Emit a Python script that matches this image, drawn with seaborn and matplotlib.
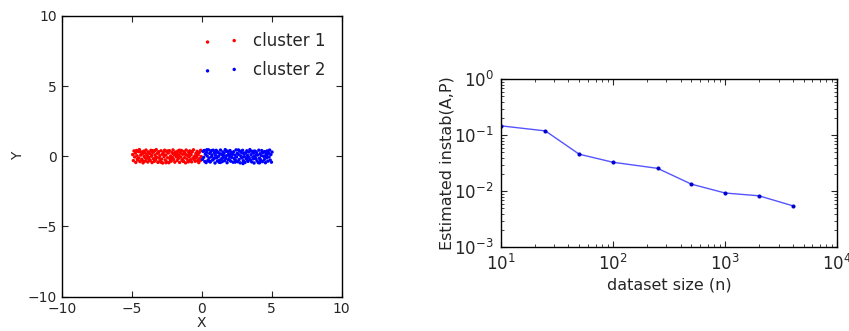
import matplotlib
matplotlib.use("Agg")
import matplotlib.pyplot as plt
import seaborn as sns
import pandas as pd

# cluster points (approximate)
c1_x = [-4.93, -4.88, -4.84, -4.79, -4.74, -4.71, -4.66, -4.62, -4.57, -4.53,
        -4.49, -4.45, -4.41, -4.36, -4.32, -4.28, -4.24, -4.19, -4.15, -4.11,
        -4.06, -4.02, -3.98, -3.94, -3.89, -3.85, -3.81, -3.76, -3.72, -3.68,
        -3.63, -3.59, -3.55, -3.51, -3.46, -3.42, -3.38, -3.33, -3.29, -3.25,
        -3.21, -3.16, -3.12, -3.08, -3.03, -2.99, -2.95, -2.91, -2.86, -2.82,
        -2.78, -2.73, -2.69, -2.65, -2.61, -2.56, -2.52, -2.48, -2.43, -2.39,
        -2.35, -2.31, -2.26, -2.22, -2.18, -2.13, -2.09, -2.05, -2.01, -1.96,
        -1.92, -1.88, -1.83, -1.79, -1.75, -1.71, -1.66, -1.62, -1.58, -1.53,
        -1.49, -1.45, -1.41, -1.36, -1.32, -1.28, -1.23, -1.19, -1.15, -1.11,
        -1.06, -1.02, -0.98, -0.93, -0.89, -0.85, -0.81, -0.76, -0.72, -0.68,
        -0.63, -0.59, -0.55, -0.51, -0.46, -0.42, -0.38, -0.33, -0.29, -0.25,
        -0.21, -0.16, -0.12, -0.08, -0.04,
        -4.60, -4.38, -4.17, -3.96, -3.74, -3.53, -3.31, -3.10, -2.88, -2.67,
        -2.45, -2.24, -2.02, -1.81, -1.59, -1.38, -1.16, -0.95, -0.73, -0.52,
        -0.30, -0.09, -4.47, -4.02, -3.57, -3.12, -2.67, -2.21, -1.76, -1.31,
        -0.86, -0.41, -4.27, -3.36, -2.55, -1.64, -0.92, -0.18]
c1_y = [0.12, -0.31, 0.38, -0.05, 0.22, -0.44, 0.41, 0.03, -0.27, 0.33,
        -0.12, 0.46, -0.38, 0.08, 0.29, -0.21, 0.17, -0.47, 0.36, -0.02,
        0.25, -0.34, 0.44, -0.16, 0.06, -0.41, 0.31, -0.09, 0.19, -0.29,
        0.42, 0.01, -0.45, 0.27, -0.18, 0.35, -0.36, 0.10, -0.24, 0.47,
        -0.07, 0.21, -0.43, 0.32, -0.14, 0.04, -0.32, 0.39, -0.20, 0.15,
        -0.48, 0.28, -0.03, 0.43, -0.26, 0.09, -0.39, 0.34, -0.11, 0.23,
        -0.46, 0.40, -0.17, 0.02, -0.35, 0.26, -0.08, 0.45, -0.23, 0.13,
        -0.42, 0.30, -0.01, 0.18, -0.30, 0.37, -0.15, 0.07, -0.44, 0.24,
        -0.06, 0.41, -0.28, 0.14, -0.37, 0.33, -0.10, 0.20, -0.47, 0.44,
        -0.19, 0.05, -0.33, 0.27, -0.04, 0.38, -0.25, 0.11, -0.40, 0.31,
        -0.13, 0.46, -0.22, 0.00, -0.36, 0.19, -0.08, 0.35, -0.30, 0.10,
        -0.45, 0.28, -0.16, 0.42, -0.02,
        -0.20, 0.30, -0.38, 0.15, -0.27, 0.40, -0.10, 0.25, -0.44, 0.08,
        0.37, -0.33, 0.18, -0.05, 0.43, -0.24, 0.12, -0.40, 0.32, -0.15,
        0.22, -0.30, 0.45, -0.12, 0.05, -0.42, 0.35, -0.20, 0.27, -0.35,
        0.16, 0.02, -0.26, 0.39, -0.46, 0.09, 0.33, -0.19]

c2_x = [0.05, 0.09, 0.14, 0.18, 0.22, 0.27, 0.31, 0.35, 0.39, 0.44,
        0.48, 0.52, 0.57, 0.61, 0.65, 0.69, 0.74, 0.78, 0.82, 0.87,
        0.91, 0.95, 0.99, 1.04, 1.08, 1.12, 1.17, 1.21, 1.25, 1.29,
        1.34, 1.38, 1.42, 1.47, 1.51, 1.55, 1.59, 1.64, 1.68, 1.72,
        1.77, 1.81, 1.85, 1.89, 1.94, 1.98, 2.02, 2.07, 2.11, 2.15,
        2.19, 2.24, 2.28, 2.32, 2.37, 2.41, 2.45, 2.49, 2.54, 2.58,
        2.62, 2.67, 2.71, 2.75, 2.79, 2.84, 2.88, 2.92, 2.97, 3.01,
        3.05, 3.09, 3.14, 3.18, 3.22, 3.27, 3.31, 3.35, 3.39, 3.44,
        3.48, 3.52, 3.57, 3.61, 3.65, 3.69, 3.74, 3.78, 3.82, 3.87,
        3.91, 3.95, 3.99, 4.04, 4.08, 4.12, 4.17, 4.21, 4.25, 4.29,
        4.34, 4.38, 4.42, 4.47, 4.51, 4.55, 4.59, 4.64, 4.68, 4.72,
        4.77, 4.81, 4.85, 4.89, 4.94, 4.98, 5.02,
        0.26, 0.47, 0.69, 0.90, 1.12, 1.33, 1.55, 1.76, 1.98, 2.19,
        2.41, 2.62, 2.84, 3.05, 3.27, 3.48, 3.70, 3.91, 4.13, 4.34,
        4.56, 4.77, 0.58, 1.03, 1.48, 1.93, 2.38, 2.83, 3.28, 3.73,
        4.18, 4.63, 0.36, 1.24, 2.06, 2.95, 3.83, 4.70]
c2_y = [-0.22, 0.35, -0.08, 0.41, -0.37, 0.14, -0.45, 0.27, 0.02, -0.30,
        0.46, -0.13, 0.20, -0.41, 0.33, -0.04, 0.10, -0.27, 0.43, -0.18,
        0.25, -0.48, 0.07, 0.38, -0.11, -0.34, 0.29, 0.00, -0.43, 0.18,
        0.44, -0.20, 0.12, -0.38, 0.31, -0.06, 0.23, -0.31, 0.47, -0.15,
        0.04, -0.46, 0.36, -0.24, 0.15, -0.02, 0.40, -0.35, 0.26, -0.09,
        0.19, -0.42, 0.32, -0.16, 0.08, -0.28, 0.45, -0.05, 0.21, -0.39,
        0.13, -0.23, 0.37, -0.47, 0.03, 0.28, -0.12, 0.42, -0.32, 0.16,
        -0.03, -0.44, 0.24, -0.19, 0.39, 0.06, -0.36, 0.30, -0.10, 0.47,
        -0.26, 0.11, -0.40, 0.34, -0.07, 0.22, -0.48, 0.01, 0.36, -0.17,
        0.27, -0.33, 0.09, -0.45, 0.43, -0.14, 0.18, -0.29, 0.05, 0.40,
        -0.38, 0.25, -0.01, -0.24, 0.33, -0.46, 0.14, -0.11, 0.38, -0.35,
        0.20, -0.05, 0.44, -0.27, 0.12, -0.42, 0.30,
        0.18, -0.33, 0.40, -0.12, 0.27, -0.44, 0.06, 0.35, -0.25, 0.14,
        -0.39, 0.45, -0.07, 0.22, -0.30, 0.38, -0.18, 0.09, -0.47, 0.31,
        -0.02, 0.25, -0.36, 0.42, -0.14, 0.17, -0.41, 0.29, -0.09, 0.36,
        -0.22, 0.03, 0.46, -0.31, 0.11, -0.52, -0.15, 0.24]

# stability curve from the right panel
sizes = [10, 25, 50, 100, 250, 500, 1000, 2000, 4000]
instab = [0.148, 0.120, 0.046, 0.033, 0.0257, 0.0134, 0.0093, 0.0083, 0.0055]

sns.set_style("ticks")
plt.rcParams.update({
    "font.family": ["DejaVu Sans"],
    "xtick.direction": "in", "ytick.direction": "in",
    "xtick.top": True, "ytick.right": True,
    "axes.linewidth": 1.0,
})

fig = plt.figure(figsize=(8.49, 3.31), dpi=100)
ax1 = fig.add_axes([0.0727, 0.1035, 0.3298, 0.8489])
ax2 = fig.add_axes([0.5898, 0.2532, 0.3965, 0.5069])

pts = pd.DataFrame({
    "x": c1_x + c2_x,
    "y": c1_y + c2_y,
    "cluster": ["cluster 1"] * len(c1_x) + ["cluster 2"] * len(c2_x),
})
sns.scatterplot(data=pts, x="x", y="y", hue="cluster",
                palette={"cluster 1": "red", "cluster 2": "blue"},
                s=6, linewidth=0, ax=ax1, legend=False)
ax1.set_xlim(-10, 10)
ax1.set_ylim(-10, 10)
ax1.set_xticks([-10, -5, 0, 5, 10])
ax1.set_yticks([-10, -5, 0, 5, 10])
ax1.set_xlabel("X", fontsize=10, labelpad=0)
ax1.set_ylabel("Y", fontsize=10, labelpad=2)
ax1.tick_params(labelsize=10, length=4)
h1 = ax1.scatter([], [], s=6, c="red", linewidths=0, label="cluster 1")
h2 = ax1.scatter([], [], s=6, c="blue", linewidths=0, label="cluster 2")
ax1.legend(handles=[h1, h2], loc="upper right", frameon=False,
           scatterpoints=2, fontsize=12, handletextpad=0.8,
           handlelength=2.2, borderaxespad=0.6, labelspacing=0.65)

df = pd.DataFrame({"n": sizes, "instab": instab})
sns.lineplot(data=df, x="n", y="instab", ax=ax2, color="#5555ff",
             linewidth=1.0, marker="o", markersize=2.2,
             markerfacecolor="#0000cc", markeredgecolor="#0000cc")
ax2.set_xscale("log")
ax2.set_yscale("log")
ax2.set_xlim(10, 1e4)
ax2.set_ylim(1e-3, 1)
ax2.set_xlabel("dataset size (n)", fontsize=11.5, labelpad=2)
ax2.set_ylabel("Estimated instab(A,P)", fontsize=11.5, labelpad=0)
ax2.tick_params(which="major", labelsize=12, length=4, pad=5)
ax2.tick_params(which="minor", length=2)

for a in (ax1, ax2):
    for s in a.spines.values():
        s.set_visible(True)
        s.set_color("black")

fig.savefig("out.png", dpi=100)
